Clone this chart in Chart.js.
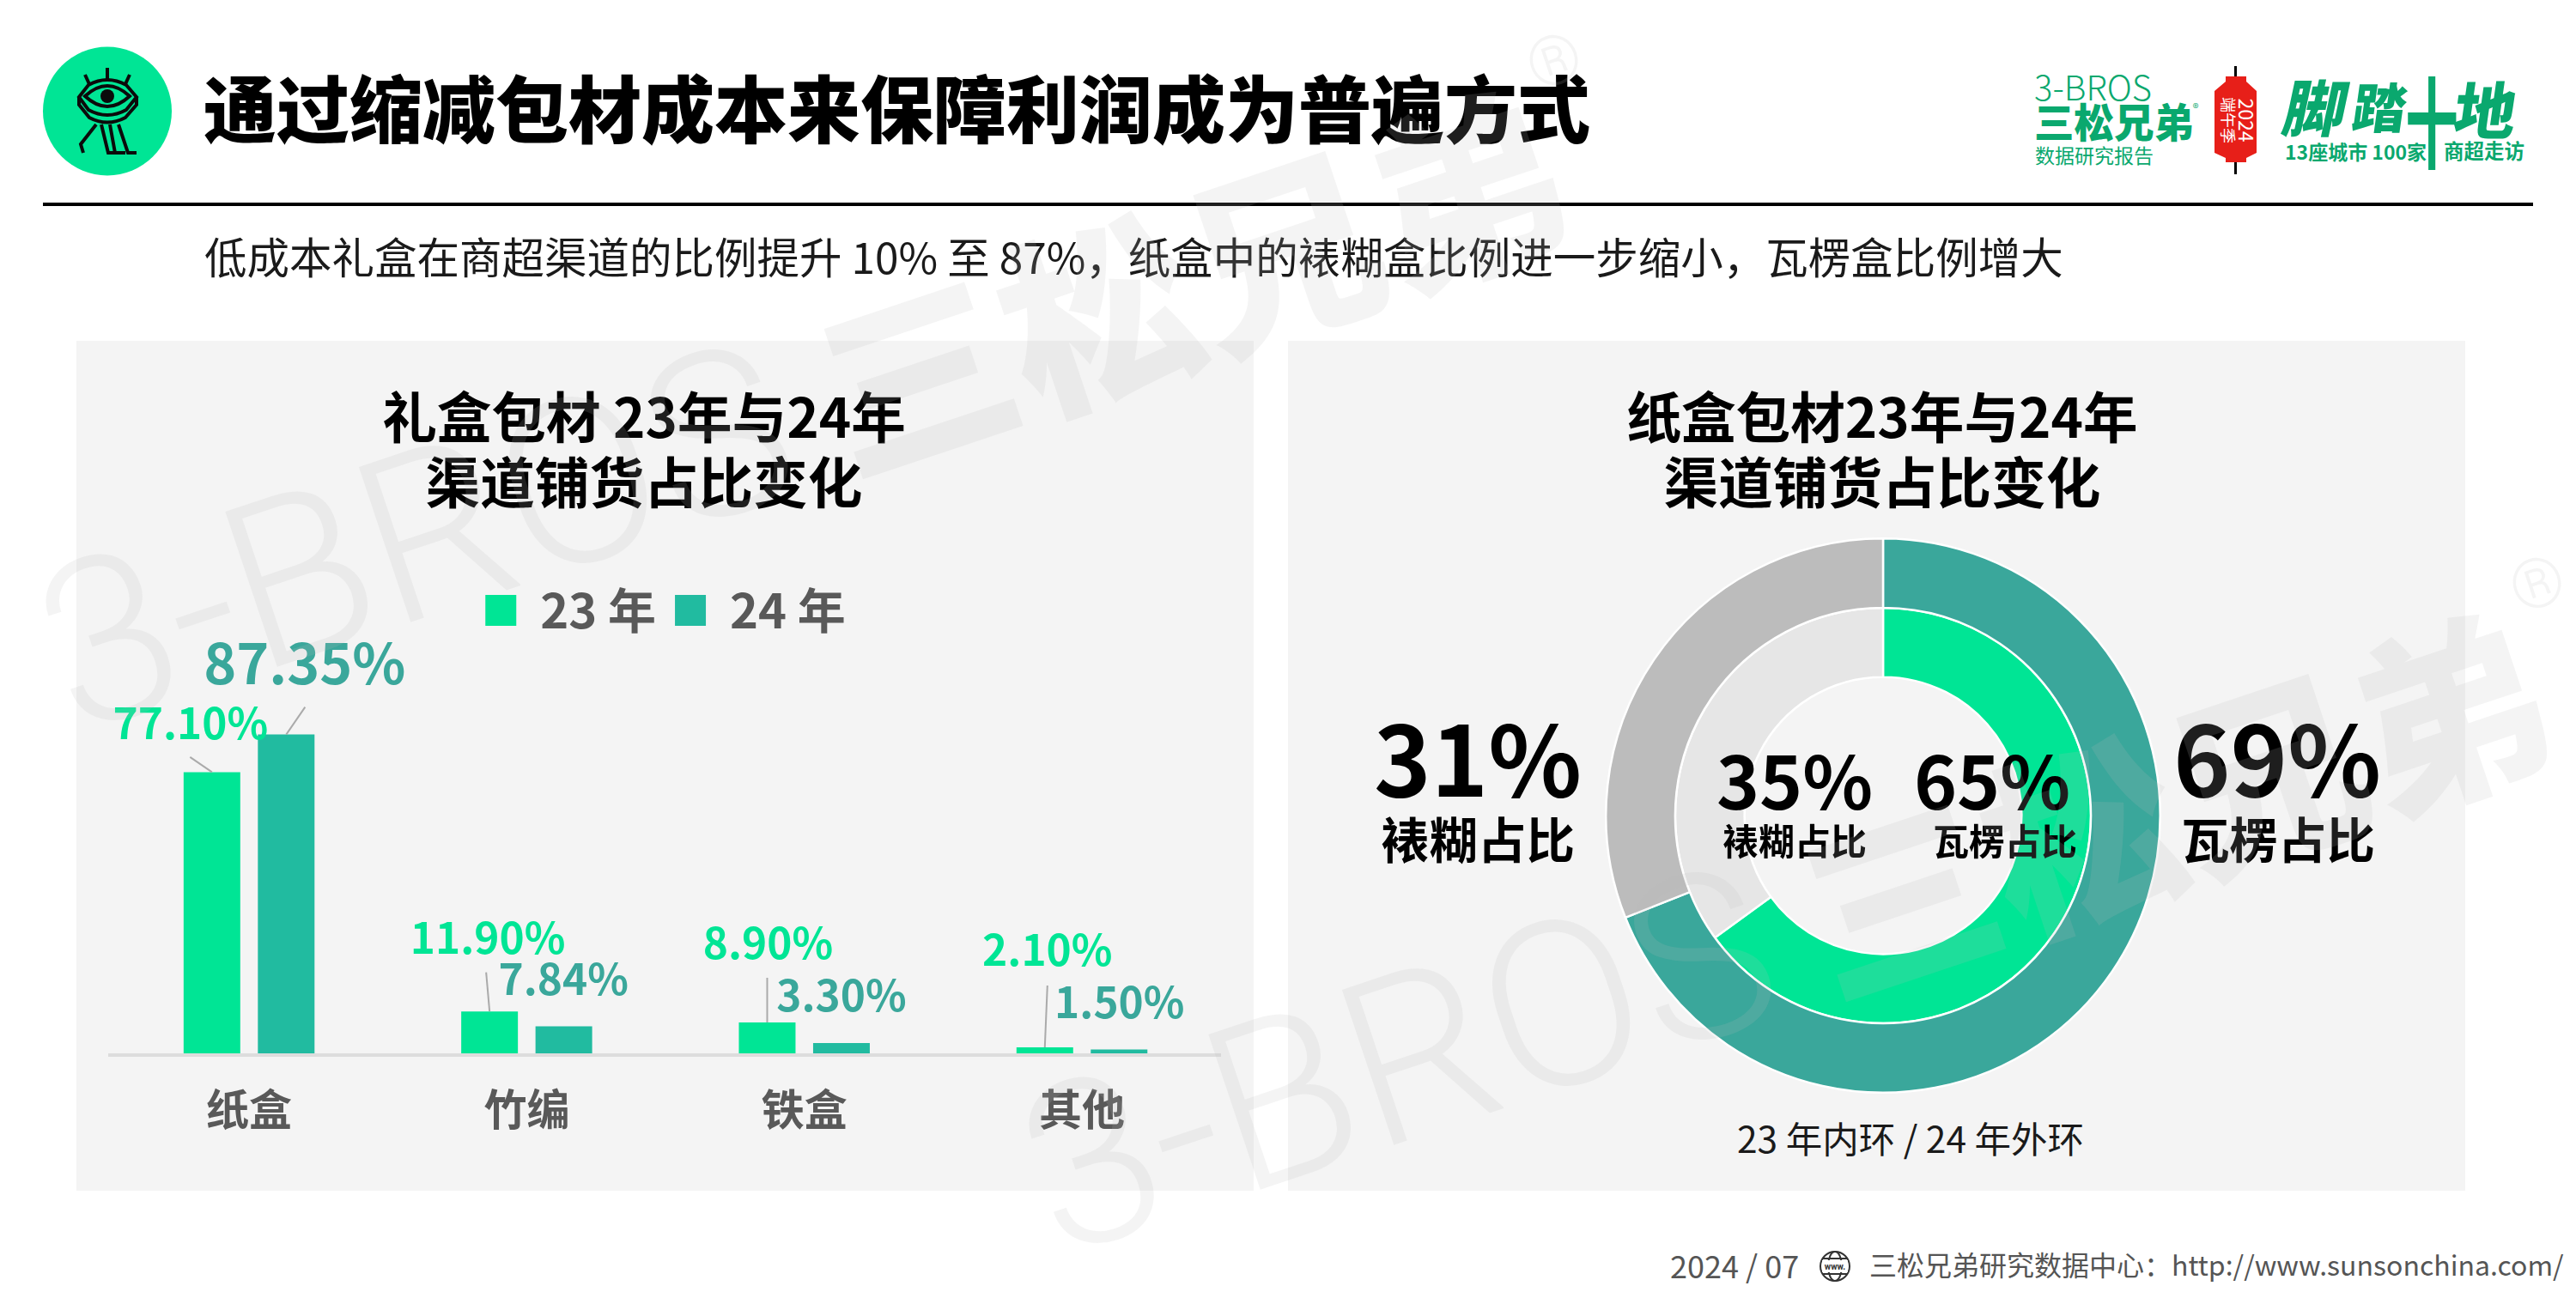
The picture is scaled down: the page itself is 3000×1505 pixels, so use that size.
<!DOCTYPE html>
<html lang="zh-CN"><head><meta charset="utf-8">
<script src="https://cdn.jsdelivr.net/npm/chart.js@4"></script>
<style>
html,body{margin:0;padding:0;background:#fff;}
#page{position:relative;width:3000px;height:1505px;overflow:hidden;background:#fff;font-family:"Noto Sans CJK SC","Noto Sans",sans-serif;}
.p{position:absolute;}
.t{position:absolute;white-space:pre;line-height:1;}
canvas{position:absolute;}
svg{position:absolute;left:0;top:0;}
.wm{position:absolute;white-space:pre;line-height:1;transform-origin:0 50%;color:rgba(185,185,185,.16);pointer-events:none;}
</style></head>
<body><div id="page">
<div class="p" style="left:89px;top:397px;width:1371px;height:990px;background:#f4f4f4"></div>
<div class="p" style="left:1500px;top:397px;width:1371px;height:990px;background:#f4f4f4"></div>
<div class="p" style="left:50px;top:236px;width:2900px;height:4px;background:#000"></div>
<svg width="3000" height="1505" viewBox="0 0 3000 1505" fill="none">
 <ellipse cx="125" cy="129.5" rx="75" ry="75" fill="#00e595"/>
 <g stroke="#0b0b0b" stroke-width="4" fill="none" stroke-linejoin="miter">
  <path d="M125 79V92M99 87l5 11M151 87l-5 11"/>
  <path d="M92 113 L103 99 Q125 87 147 99 L159 113 L147 128 Q125 140 103 128 Z"/>
  <path d="M99 112 Q125 88 151 112 Q125 136 99 112 Z"/>
  <path d="M92 113 L92 122 L104 137 Q125 148 146 137 L159 122 L159 113"/>
  <path d="M112 145 L94 168 L97 178M118 145 L126 178 H136M128 145 L134 178 H146M138 145 L149 178 H159"/>
 </g>
 <circle cx="125" cy="112" r="8" fill="#0b0b0b"/>
 <path d="M2603.5 77V203" stroke="#000" stroke-width="3"/>
 <path d="M2592 89H2616V95L2628 106V178L2616 184V189H2592V184L2579 178V106L2592 95Z" fill="#e71f19"/>
 <g stroke="#333" stroke-width="2"><circle cx="2137" cy="1475" r="17"/><ellipse cx="2137" cy="1475" rx="8" ry="17"/><path d="M2123 1466H2151M2123 1484H2151"/></g>
 <rect x="2122" y="1468" width="30" height="14" fill="#fff"/>
 <text x="2137" y="1479" font-size="10" font-weight="700" fill="#333" text-anchor="middle" font-family="Roboto">www.</text>
</svg>
<canvas id="bars" style="left:89px;top:398px;width:1371px;height:989px" width="1371" height="989"></canvas>
<canvas id="rings" style="left:1863px;top:619.5px;width:660px;height:660px" width="660" height="660"></canvas>
</div>
<script>
// ---------- data ----------
const categories = ['纸盒','竹编','铁盒','其他'];
const seriesNames = ['23 年','24 年'];
const values23 = [77.10,11.90,8.90,2.10];
const values24 = [87.35,7.84,3.30,1.50];
const ringNames = ['瓦楞','裱糊'];
const ring23 = [65,35];
const ring24 = [69,31];

// ---------- styling config ----------
const CJK = '"Noto Sans CJK SC","Noto Sans",sans-serif';
const GREEN='#00e595', TEAL='#21bba0', TEALTEXT='#3aa79b';
const pxPerUnit = 4.275;
const labelOffsets23 = [[-25,-57.5],[-2,-86],[1,-93],[3,-114]];
const labelOffsets24 = [[21.5,-82.6],[-0.5,-55],[0,-56],[0.5,-55.6]];
const leaders23 = [[-25.5,-17.5],[-4,-45.5],[0,-52],[3,-72]];
const leaders24 = [[22,-32],null,null,null];
const labelFont23 = [49.5,49.5,49.5,49.5];
const labelFont24 = [64.5,49.5,49.5,49.5];

const page = document.getElementById('page');
function T(text,x,y,size,weight,color,anchor,extra){
  const s=document.createElement('div');s.className='t';s.textContent=text;
  s.style.left=x+'px';s.style.top=y+'px';s.style.fontSize=size+'px';s.style.fontWeight=weight;s.style.color=color;
  const ax=anchor==='l'?'0':anchor==='r'?'-100%':'-50%';
  s.style.transform=`translate(${ax},-50%)`+(extra||'');
  page.appendChild(s);return s;
}
// header
T('通过缩减包材成本来保障利润成为普遍方式',237,122,85,900,'#000','l');
T('低成本礼盒在商超渠道的比例提升 10% 至 87%，纸盒中的裱糊盒比例进一步缩小，瓦楞盒比例增大',238,298,49.5,400,'#1a1a1a','l');
// panel titles
T('礼盒包材 23年与24年',750,483,63.6,700,'#000');
T('渠道铺货占比变化',750,559,63.6,700,'#000');
T('纸盒包材23年与24年',2192,483,63.6,700,'#000');
T('渠道铺货占比变化',2192,559,63.6,700,'#000');
// ring labels
T(ring24[1]+'%',1721,879,113,700,'#000');
T(ringNames[1]+'占比',1721,975,56.5,700,'#000');
T(ring24[0]+'%',2652,879,113,700,'#000');
T(ringNames[0]+'占比',2653,975,56.5,700,'#000');
T(ring23[1]+'%',2090,905,85,700,'#000');
T(ringNames[1]+'占比',2090,978,42,700,'#000');
T(ring23[0]+'%',2320,905,85,700,'#000');
T(ringNames[0]+'占比',2335,978,42,700,'#000');
T('23 年内环 / 24 年外环',2225,1325,42.5,400,'#1a1a1a');
// footer
T('2024 / 07',1945,1473,36,400,'#555','l');
T('三松兄弟研究数据中心：http://www.sunsonchina.com/',2177,1472,32,400,'#555','l');
// brand block
const BG='#0aa86e';
T('3-BROS',2369,100,40,300,BG,'l');
T('三松兄弟',2369,140,46.5,900,BG,'l');
T('®',2557,125,14,400,BG);
T('数据研究报告',2370,180,23,400,BG,'l');
T('2024',2616,140,23,400,'#fff','c',' rotate(90deg)');
T('端午季',2596,140,18,400,'#fff','c',' rotate(90deg)');
T('脚',2698,122,72,900,BG,'c',' skewX(-12deg)');
T('踏',2772,122,62,900,BG,'c',' skewX(-8deg)');
T('十',2832,138,88,700,BG,'c',' scale(.7,1.3)');
T('地',2895,125,72,900,BG,'c',' skewX(-8deg)');
T('13座城市 100家',2661,176,23,700,BG,'l');
T('商超走访',2846,176,23.5,700,BG,'l');

const barLabels={id:'barLabels',afterDatasetsDraw(c){
  const g=c.ctx;
  [[0,values23,labelOffsets23,leaders23,labelFont23,GREEN],[1,values24,labelOffsets24,leaders24,labelFont24,TEALTEXT]].forEach(([d,vals,offs,leads,fonts,col])=>{
    const m=c.getDatasetMeta(d);
    m.data.forEach((el,i)=>{
      if(leads[i]){g.save();g.strokeStyle='#aaaaaa';g.lineWidth=2;g.beginPath();g.moveTo(el.x,el.y);g.lineTo(el.x+leads[i][0],el.y+leads[i][1]);g.stroke();g.restore();}
      g.save();g.fillStyle=col;g.font=`700 ${fonts[i]}px ${CJK}`;g.textAlign='center';g.textBaseline='middle';
      g.fillText(vals[i].toFixed(2)+'%',el.x+offs[i][0],el.y+offs[i][1]);g.restore();
    });
  });
}};
const barChart=new Chart(document.getElementById('bars'),{type:'bar',plugins:[barLabels],
 data:{labels:categories,datasets:[
  {label:seriesNames[0],data:values23,backgroundColor:GREEN,borderWidth:0},
  {label:seriesNames[1],data:values24,backgroundColor:TEAL,borderWidth:0}]},
 options:{responsive:false,animation:false,devicePixelRatio:1,
  categoryPercentage:.535,barPercentage:.763,
  layout:{padding:{left:39.4,right:38.3,top:263,bottom:0}},
  plugins:{tooltip:{enabled:false},legend:{display:true,position:'top',align:'center',
    labels:{boxWidth:36,boxHeight:36,padding:22,color:'#595959',font:{family:CJK,size:56,weight:'700'}}}},
  scales:{
   x:{grid:{display:false},border:{display:true,color:'#dddddd',width:4,z:1},
      ticks:{color:'#595959',font:{family:CJK,size:50,weight:'700'},padding:25,maxRotation:0},
      afterFit(s){s.height=158;}},
   y:{display:false,min:0,max:110}
  }}});
barChart.options.scales.y.max=barChart.chartArea.height/pxPerUnit;
barChart.update();
const ringChart=new Chart(document.getElementById('rings'),{type:'doughnut',
 data:{labels:ringNames,datasets:[
  {data:ring24,backgroundColor:['#3aa79b','#bcbcbc'],borderColor:'#ffffff',borderWidth:2.5},
  {data:ring23,backgroundColor:[GREEN,'#e6e6e6'],borderColor:'#ffffff',borderWidth:2.5}]},
 options:{responsive:false,animation:false,devicePixelRatio:1,cutout:'50%',
  layout:{padding:6},plugins:{legend:{display:false},tooltip:{enabled:false}}}});
// watermark
function WM(x,y){
  const w=document.createElement('div');w.className='wm';w.style.left=x+'px';w.style.top=y+'px';w.style.transform='rotate(-18.5deg)';
  w.innerHTML='<span style="font:300 268px Roboto">3-BROS</span><span style="font:900 225px \'Noto Sans CJK SC\'"> 三松兄弟</span><span style="font:300 80px Roboto;vertical-align:170px">®</span>';
  page.appendChild(w);
}
WM(55,600);WM(1200,1209);
</script>
</body></html>
